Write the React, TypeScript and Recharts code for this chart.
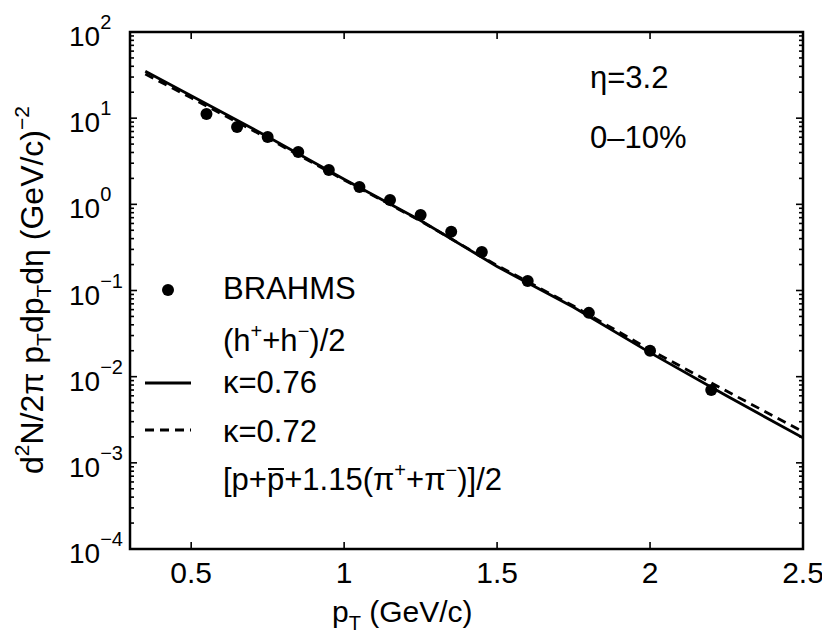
import React from "react";
import { ComposedChart, Line, Scatter, XAxis, YAxis, ReferenceArea } from "recharts";

// ---- data ----
const brahmsPt = [0.55, 0.65, 0.75, 0.85, 0.95, 1.05, 1.15, 1.25, 1.35, 1.45, 1.6, 1.8, 2.0, 2.2];
const brahmsYield = [11.2, 7.9, 6.05, 4.05, 2.5, 1.59, 1.12, 0.75, 0.48, 0.28, 0.129, 0.055, 0.02, 0.007];

const curvePt = [0.35, 0.5, 0.75, 1.0, 1.25, 1.5, 1.75, 2.0, 2.25, 2.5];
const kappa076 = [35, 18.2, 6.1, 1.95, 0.65, 0.19, 0.064, 0.019, 0.006, 0.00195];
const kappa072 = [32.5, 17.2, 5.85, 1.92, 0.64, 0.195, 0.066, 0.0205, 0.0068, 0.0023];

const xTicks = [0.5, 1, 1.5, 2, 2.5];
const yMajor = [1e-4, 1e-3, 1e-2, 1e-1, 1e0, 1e1, 1e2];
const yExponents = ["−4", "−3", "−2", "−1", "0", "1", "2"];

const yTicks: number[] = [];
for (let e = -4; e <= 2; e++) {
  for (let m = 1; m <= 9; m++) {
    if (e === 2 && m > 1) break;
    yTicks.push(Number((m * Math.pow(10, e)).toPrecision(3)));
  }
}

const brahms = brahmsPt.map((x, i) => ({ x, y: brahmsYield[i] }));
const k076 = curvePt.map((x, i) => ({ x, y: kappa076[i] }));
const k072 = curvePt.map((x, i) => ({ x, y: kappa072[i] }));

// ---- layout ----
const W = 822;
const H = 634;
const LEFT = 122;
const TOP = 24;
const PLOT_W = 673;
const PLOT_H = 517;
const FONT = "'Liberation Sans', Arial, Helvetica, sans-serif";
const FS = 31;
const SUP = 20;

const YTick = (props: any) => {
  const { x, y, payload } = props;
  const v = payload.value;
  const idx = yMajor.findIndex((m) => Math.abs(m - v) / m < 1e-6);
  const major = idx >= 0;
  const len = major ? 7 : 4;
  return (
    <g>
      <line x1={x} y1={y} x2={x + len} y2={y} stroke="#000" strokeWidth={1.6} />
      <line x1={x + PLOT_W} y1={y} x2={x + PLOT_W - len} y2={y} stroke="#000" strokeWidth={1.6} />
      {major && (
        <text x={x - 61} y={y + 14} textAnchor="start" fontFamily={FONT} fontSize={28} fill="#000">
          10
          <tspan dy={-17} fontSize={20}>{yExponents[idx]}</tspan>
        </text>
      )}
    </g>
  );
};

const XTick = (props: any) => {
  const { x, y, payload } = props;
  return (
    <g>
      <line x1={x} y1={y} x2={x} y2={y - 7} stroke="#000" strokeWidth={1.6} />
      <line x1={x} y1={y - PLOT_H} x2={x} y2={y - PLOT_H + 7} stroke="#000" strokeWidth={1.6} />
      <text x={x} y={y + 34} textAnchor="middle" fontFamily={FONT} fontSize={30} fill="#000">
        {String(payload.value)}
      </text>
    </g>
  );
};

const Dot = (props: any) => <circle cx={props.cx} cy={props.cy} r={6} fill="#000" />;

export default function App() {
  return (
    <div style={{ position: "relative", width: W, height: H }}>
      <ComposedChart width={W} height={H} margin={{ top: TOP, right: W - LEFT - PLOT_W, bottom: 0, left: 0 }}>
        <XAxis
          type="number"
          dataKey="x"
          domain={[0.3, 2.5]}
          ticks={xTicks}
          allowDataOverflow
          height={H - TOP - PLOT_H}
          tickLine={false}
          tickSize={0}
          tickMargin={0}
          axisLine={false}
          tick={<XTick />}
          interval={0}
        />
        <YAxis
          type="number"
          dataKey="y"
          scale="log"
          domain={[1e-4, 1e2]}
          ticks={yTicks}
          allowDataOverflow
          width={LEFT}
          tickLine={false}
          tickSize={0}
          tickMargin={0}
          axisLine={false}
          tick={<YTick />}
          interval={0}
        />
        <ReferenceArea x1={0.3} x2={2.5} y1={1e-4} y2={1e2} fill="none" stroke="#000" strokeWidth={2.5} fillOpacity={0} />
        <Line data={k076} dataKey="y" type="linear" stroke="#000" strokeWidth={2.8} dot={false} isAnimationActive={false} />
        <Line data={k072} dataKey="y" type="linear" stroke="#000" strokeWidth={2.8} strokeDasharray="9 6" dot={false} isAnimationActive={false} />
        <Scatter data={brahms} dataKey="y" shape={<Dot />} isAnimationActive={false} />
      </ComposedChart>
      <svg
        width={W}
        height={H}
        style={{ position: "absolute", left: 0, top: 0, pointerEvents: "none" }}
        fontFamily={FONT}
        fontSize={FS}
        fill="#000"
      >
        {/* y label */}
        <text transform="translate(35,282) rotate(-90)" textAnchor="middle" fontSize={32}>
          d<tspan dy={-14} fontSize={21}>2</tspan>
          <tspan dy={14}>N/2π p</tspan>
          <tspan dy={8} fontSize={21}>T</tspan>
          <tspan dy={-8}>dp</tspan>
          <tspan dy={8} fontSize={21}>T</tspan>
          <tspan dy={-8}>dη (GeV/c)</tspan>
          <tspan dy={-14} fontSize={21}>−2</tspan>
        </text>
        {/* x label */}
        <text x={324} y={614} textAnchor="start" fontSize={30}>
          p<tspan dy={8} fontSize={SUP}>T</tspan>
          <tspan dy={-8}> (GeV/c)</tspan>
        </text>
        {/* annotations */}
        <text x={582} y={80}>η=3.2</text>
        <text x={582} y={140}>0–10%</text>
        {/* legend */}
        <circle cx={160} cy={282} r={6} fill="#000" />
        <text x={215} y={291}>BRAHMS</text>
        <text x={215} y={343}>
          (h<tspan dy={-13} fontSize={SUP}>+</tspan>
          <tspan dy={13}>+h</tspan>
          <tspan dy={-13} fontSize={SUP}>−</tspan>
          <tspan dy={13}>)/2</tspan>
        </text>
        <line x1={137} y1={375} x2={183} y2={375} stroke="#000" strokeWidth={2.8} />
        <text x={215} y={385}>κ=0.76</text>
        <line x1={137} y1={422} x2={183} y2={422} stroke="#000" strokeWidth={2.8} strokeDasharray="9 6" />
        <text x={215} y={434}>κ=0.72</text>
        <text x={215} y={482}>
          [p+p+1.15(π
          <tspan dy={-13} fontSize={SUP}>+</tspan>
          <tspan dy={13}>+π</tspan>
          <tspan dy={-13} fontSize={SUP}>−</tspan>
          <tspan dy={13}>)]/2</tspan>
        </text>
        <line x1={260} y1={461} x2={276} y2={461} stroke="#000" strokeWidth={2} />
      </svg>
    </div>
  );
}
